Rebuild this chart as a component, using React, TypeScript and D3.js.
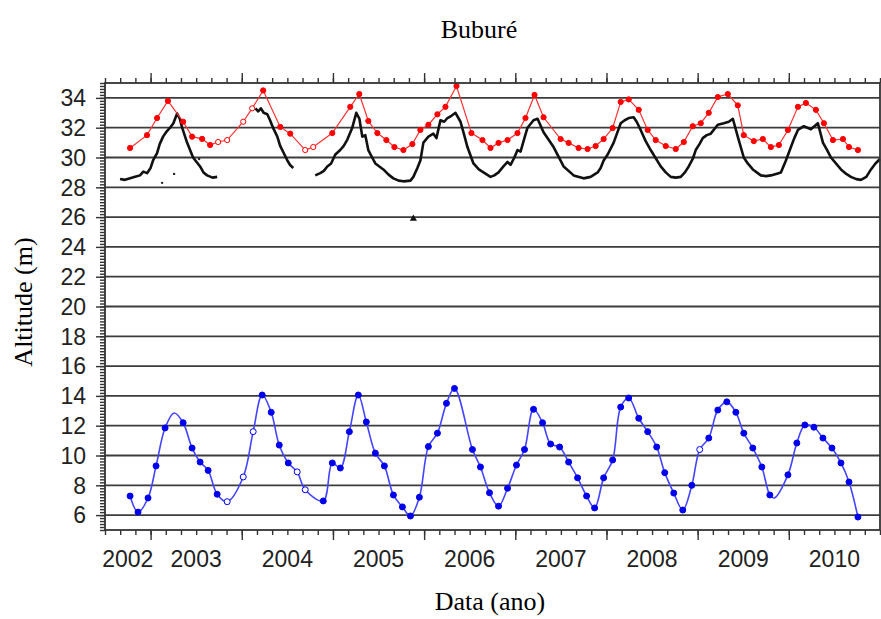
import React, { useEffect, useRef } from 'react';
import * as d3 from 'd3';

// Buburé station - water level (m) vs time (decimal year)
const yearLabels = [2002, 2003, 2004, 2005, 2006, 2007, 2008, 2009, 2010];
const yLabels = [6, 8, 10, 12, 14, 16, 18, 20, 22, 24, 26, 28, 30, 32, 34];

// red series (upper, with markers)
const redSeries: [number, number][] = [
	[2002.775, 30.64], [2002.961, 31.5], [2003.071, 32.65], [2003.19, 33.8], [2003.357, 32.4],
	[2003.455, 31.4], [2003.565, 31.25], [2003.653, 30.84], [2003.741, 31.04], [2003.84, 31.17],
	[2004.016, 32.4], [2004.114, 33.3], [2004.235, 34.5], [2004.422, 32.05], [2004.532, 31.6],
	[2004.696, 30.5], [2004.784, 30.7], [2004.993, 31.64], [2005.19, 33.4], [2005.289, 34.26],
	[2005.388, 32.45], [2005.487, 31.64], [2005.586, 31.17], [2005.674, 30.7], [2005.773, 30.5],
	[2005.871, 30.9], [2005.959, 31.85], [2006.047, 32.2], [2006.146, 32.9], [2006.234, 33.4],
	[2006.355, 34.8], [2006.519, 31.64], [2006.64, 31.17], [2006.728, 30.64], [2006.816, 30.98],
	[2006.915, 31.17], [2007.024, 31.64], [2007.112, 32.65], [2007.211, 34.2], [2007.31, 32.7],
	[2007.497, 31.24], [2007.585, 30.98], [2007.694, 30.64], [2007.793, 30.57], [2007.881, 30.77],
	[2007.969, 31.24], [2008.068, 31.98], [2008.156, 33.73], [2008.244, 33.9], [2008.354, 33.2],
	[2008.452, 31.85], [2008.54, 31.17], [2008.65, 30.77], [2008.76, 30.57], [2008.848, 31.04],
	[2008.946, 32.1], [2009.034, 32.3], [2009.122, 33.0], [2009.221, 34.06], [2009.331, 34.26],
	[2009.44, 33.5], [2009.506, 31.5], [2009.616, 31.1], [2009.715, 31.24], [2009.803, 30.7],
	[2009.891, 30.84], [2009.99, 31.85], [2010.1, 33.4], [2010.187, 33.66], [2010.297, 33.2],
	[2010.385, 32.3], [2010.484, 31.17], [2010.594, 31.24], [2010.66, 30.7], [2010.758, 30.5],
];
const redOpenYears = [2003.741, 2003.84, 2004.016, 2004.114, 2004.696, 2004.784];

// black series (daily gauge), three pieces with gaps
const blackSeg1: [number, number][] = [
	[2002.665, 28.56], [2002.72, 28.5], [2002.775, 28.6], [2002.83, 28.7], [2002.884, 28.8],
	[2002.92, 29.05], [2002.961, 28.95], [2003.0, 29.3], [2003.027, 29.8], [2003.071, 30.3],
	[2003.1, 30.9], [2003.137, 31.4], [2003.17, 31.7], [2003.214, 32.0], [2003.25, 32.3],
	[2003.291, 32.95], [2003.32, 32.6], [2003.346, 32.0], [2003.40, 31.0], [2003.466, 30.0],
	[2003.543, 29.4], [2003.58, 29.0], [2003.62, 28.8], [2003.68, 28.65], [2003.73, 28.7],
];
const blackSeg2: [number, number][] = [
	[2004.15, 33.3], [2004.18, 33.1], [2004.21, 33.3], [2004.24, 33.0], [2004.28, 32.9],
	[2004.31, 32.5], [2004.35, 31.9], [2004.39, 31.4], [2004.42, 30.8], [2004.46, 30.3],
	[2004.50, 29.8], [2004.53, 29.5], [2004.565, 29.3],
];
const blackSeg3: [number, number][] = [
	[2004.806, 28.8], [2004.861, 28.95], [2004.9, 29.1], [2004.938, 29.4], [2004.98, 29.6],
	[2005.026, 30.2], [2005.08, 30.5], [2005.12, 30.8], [2005.158, 31.2], [2005.212, 32.0],
	[2005.256, 33.0], [2005.29, 32.6], [2005.322, 31.4], [2005.355, 31.5], [2005.388, 30.5],
	[2005.43, 30.0], [2005.465, 29.6], [2005.553, 29.2], [2005.61, 28.85], [2005.663, 28.6],
	[2005.72, 28.45], [2005.773, 28.4], [2005.85, 28.45], [2005.882, 28.7], [2005.926, 29.3],
	[2005.959, 29.8], [2005.992, 31.0], [2006.047, 31.4], [2006.102, 31.6], [2006.135, 31.3],
	[2006.179, 32.5], [2006.22, 32.4], [2006.256, 32.65], [2006.3, 32.8], [2006.344, 33.0],
	[2006.399, 32.4], [2006.44, 31.5], [2006.475, 30.7], [2006.541, 29.6], [2006.6, 29.2],
	[2006.651, 29.0], [2006.728, 28.7], [2006.77, 28.8], [2006.816, 29.0], [2006.87, 29.4],
	[2006.915, 29.7], [2006.948, 29.5], [2006.99, 30.0], [2007.024, 30.5], [2007.058, 30.4],
	[2007.1, 31.3], [2007.134, 32.0], [2007.2, 32.5], [2007.244, 32.6], [2007.31, 31.7],
	[2007.42, 30.7], [2007.53, 29.4], [2007.64, 28.8], [2007.749, 28.6], [2007.826, 28.7],
	[2007.903, 29.0], [2007.936, 29.3], [2007.969, 29.8], [2008.013, 30.2], [2008.079, 31.0],
	[2008.156, 32.3], [2008.2, 32.5], [2008.244, 32.65], [2008.298, 32.7], [2008.331, 32.4],
	[2008.375, 31.85], [2008.43, 31.1], [2008.485, 30.5], [2008.595, 29.4], [2008.65, 29.0],
	[2008.705, 28.7], [2008.76, 28.65], [2008.815, 28.7], [2008.86, 29.0], [2008.902, 29.4],
	[2008.946, 29.9], [2008.979, 30.5], [2009.02, 30.9], [2009.056, 31.3], [2009.1, 31.5],
	[2009.144, 31.6], [2009.221, 32.2], [2009.287, 32.3], [2009.342, 32.4], [2009.386, 32.6],
	[2009.44, 31.4], [2009.506, 30.0], [2009.55, 29.6], [2009.605, 29.2], [2009.693, 28.8],
	[2009.75, 28.75], [2009.803, 28.8], [2009.86, 28.9], [2009.913, 29.0], [2009.968, 29.8],
	[2010.023, 30.7], [2010.06, 31.3], [2010.1, 31.85], [2010.165, 32.1], [2010.242, 31.9],
	[2010.319, 32.3], [2010.374, 31.0], [2010.42, 30.5], [2010.462, 30.0], [2010.572, 29.2],
	[2010.63, 28.9], [2010.681, 28.7], [2010.74, 28.55], [2010.791, 28.5], [2010.85, 28.7],
	[2010.901, 29.2], [2010.95, 29.6], [2011.0, 29.9],
];
const blackStray: [number, number][] = [[2003.126, 28.3], [2003.258, 28.9], [2003.532, 29.9]];
const blackStar: [number, number][] = [[2005.882, 25.9]];

// blue series (lower, smooth, with markers)
const blueSeries: [number, number][] = [
	[2002.775, 7.28], [2002.862, 6.2], [2002.972, 7.15], [2003.06, 9.3], [2003.159, 11.85],
	[2003.258, 12.85], [2003.357, 12.2], [2003.455, 10.5], [2003.543, 9.56], [2003.631, 9.0],
	[2003.73, 7.4], [2003.84, 6.9], [2004.016, 8.56], [2004.125, 11.6], [2004.224, 14.06],
	[2004.323, 12.9], [2004.411, 10.7], [2004.51, 9.5], [2004.608, 8.9], [2004.696, 7.7],
	[2004.894, 6.95], [2004.993, 9.5], [2005.081, 9.16], [2005.18, 11.6], [2005.278, 14.06],
	[2005.366, 12.25], [2005.465, 10.16], [2005.564, 9.3], [2005.663, 7.35], [2005.762, 6.55],
	[2005.85, 5.94], [2005.948, 7.2], [2006.047, 10.6], [2006.146, 11.5], [2006.245, 13.5],
	[2006.333, 14.5], [2006.53, 10.4], [2006.618, 9.23], [2006.717, 7.5], [2006.816, 6.6],
	[2006.915, 7.8], [2007.013, 9.36], [2007.101, 10.4], [2007.2, 13.1], [2007.299, 12.2],
	[2007.387, 10.77], [2007.486, 10.57], [2007.585, 9.56], [2007.683, 8.5], [2007.782, 7.28],
	[2007.87, 6.48], [2007.969, 8.5], [2008.068, 9.7], [2008.156, 13.25], [2008.244, 13.86],
	[2008.354, 12.5], [2008.452, 11.6], [2008.551, 10.57], [2008.639, 8.85], [2008.738, 7.48],
	[2008.837, 6.34], [2008.936, 8.0], [2009.023, 10.4], [2009.122, 11.17], [2009.221, 13.05],
	[2009.32, 13.6], [2009.419, 12.9], [2009.506, 11.5], [2009.605, 10.5], [2009.704, 9.23],
	[2009.792, 7.35], [2009.84, 7.15], [2009.99, 8.7], [2010.088, 10.84], [2010.176, 12.05],
	[2010.275, 11.9], [2010.374, 11.17], [2010.473, 10.5], [2010.572, 9.5], [2010.66, 8.22],
	[2010.758, 5.87],
];
const blueOpenYears = [2003.84, 2004.016, 2004.125, 2004.608, 2004.696, 2009.023];
const blueHiddenYears = [2003.258, 2009.84];

const App = () => {
	const svgRef = useRef<SVGSVGElement>(null);

	useEffect(() => {
		const svg = d3.select(svgRef.current);
		svg.selectAll('*').remove();

		const left = 105, right = 880, top = 83, bottom = 530;
		const x = d3.scaleLinear().domain([2002.5, 2011]).range([left, right]);
		const y = d3.scaleLinear().domain([5, 35]).range([bottom, top]);

		// gridlines
		svg.append('g')
			.selectAll('line')
			.data(yLabels)
			.join('line')
			.attr('x1', left).attr('x2', right)
			.attr('y1', d => y(d)).attr('y2', d => y(d))
			.attr('stroke', '#3c3c3c')
			.attr('stroke-width', 1.8);

		const plot = svg.append('g');

		// black gauge line
		const line = d3.line<[number, number]>().x(d => x(d[0])).y(d => y(d[1]));
		plot.selectAll('.black')
			.data([blackSeg1, blackSeg2, blackSeg3])
			.join('path')
			.attr('d', d => line(d))
			.attr('fill', 'none')
			.attr('stroke', '#111')
			.attr('stroke-width', 2.6)
			.attr('stroke-linejoin', 'round');
		plot.selectAll('.stray')
			.data(blackStray)
			.join('circle')
			.attr('cx', d => x(d[0])).attr('cy', d => y(d[1]))
			.attr('r', 1.2).attr('fill', '#222');
		plot.selectAll('.star')
			.data(blackStar)
			.join('path')
			.attr('transform', d => `translate(${x(d[0])},${y(d[1])})`)
			.attr('d', d3.symbol(d3.symbolTriangle, 22)())
			.attr('fill', '#111');

		// red series
		plot.append('path')
			.attr('d', line(redSeries))
			.attr('fill', 'none')
			.attr('stroke', '#ff3030')
			.attr('stroke-width', 1.2);
		plot.selectAll('.red')
			.data(redSeries)
			.join('circle')
			.attr('cx', d => x(d[0])).attr('cy', d => y(d[1]))
			.attr('r', 2.6)
			.attr('fill', d => redOpenYears.includes(d[0]) ? '#fff' : '#f00')
			.attr('stroke', '#f00')
			.attr('stroke-width', 1);

		// blue series
		const smooth = d3.line<[number, number]>()
			.x(d => x(d[0])).y(d => y(d[1]))
			.curve(d3.curveCatmullRom.alpha(0.5));
		plot.append('path')
			.attr('d', smooth(blueSeries))
			.attr('fill', 'none')
			.attr('stroke', '#4444ff')
			.attr('stroke-width', 1.6);
		plot.selectAll('.blue')
			.data(blueSeries.filter(d => !blueHiddenYears.includes(d[0])))
			.join('circle')
			.attr('cx', d => x(d[0])).attr('cy', d => y(d[1]))
			.attr('r', 3)
			.attr('fill', d => blueOpenYears.includes(d[0]) ? '#fff' : '#0000ee')
			.attr('stroke', '#0000ee')
			.attr('stroke-width', 1);

		// axes
		const xMinor = d3.range(2002.5, 2011.001, 1 / 6);
		const xMajor = d3.range(2003, 2011, 1);
		const yMinor = d3.range(5, 35.001, 0.2);
		const axisColor = '#333';

		const styleAxis = (g: any) => {
			g.select('.domain').remove();
			g.selectAll('line').attr('stroke', axisColor).attr('stroke-width', 1.4);
			g.selectAll('text').remove();
		};

		svg.append('g').attr('transform', `translate(0,${bottom})`)
			.call(d3.axisBottom(x).tickValues(xMinor).tickSize(5)).call(styleAxis);
		svg.append('g').attr('transform', `translate(0,${bottom})`)
			.call(d3.axisBottom(x).tickValues(xMajor).tickSize(10)).call(styleAxis);
		svg.append('g').attr('transform', `translate(0,${top})`)
			.call(d3.axisTop(x).tickValues(xMinor).tickSize(5)).call(styleAxis);
		svg.append('g').attr('transform', `translate(0,${top})`)
			.call(d3.axisTop(x).tickValues(xMajor).tickSize(10)).call(styleAxis);
		svg.append('g').attr('transform', `translate(${left},0)`)
			.call(d3.axisLeft(y).tickValues(yMinor).tickSize(5)).call(styleAxis);
		svg.append('g').attr('transform', `translate(${left},0)`)
			.call(d3.axisLeft(y).tickValues(yLabels).tickSize(9)).call(styleAxis);

		// frame
		svg.append('rect')
			.attr('x', left).attr('y', top)
			.attr('width', right - left).attr('height', bottom - top)
			.attr('fill', 'none')
			.attr('stroke', axisColor)
			.attr('stroke-width', 1.8);

		// tick labels
		svg.append('g')
			.selectAll('text')
			.data(yLabels)
			.join('text')
			.attr('x', 86)
			.attr('y', d => y(d))
			.attr('dy', '0.36em')
			.attr('text-anchor', 'end')
			.attr('font-family', 'Liberation Sans, Arial, sans-serif')
			.attr('font-size', 23)
			.attr('fill', '#222')
			.text(d => d);

		svg.append('g')
			.selectAll('text')
			.data(yearLabels)
			.join('text')
			.attr('x', d => x((Math.max(d, 2002.5) + Math.min(d + 1, 2011)) / 2))
			.attr('y', 567)
			.attr('text-anchor', 'middle')
			.attr('font-family', 'Liberation Sans, Arial, sans-serif')
			.attr('font-size', 23)
			.attr('fill', '#222')
			.text(d => d);

		// titles
		const serif = 'Liberation Serif, Times New Roman, serif';
		svg.append('text')
			.attr('x', 479).attr('y', 38)
			.attr('text-anchor', 'middle')
			.attr('font-family', serif).attr('font-size', 26)
			.text('Buburé');
		svg.append('text')
			.attr('x', 490).attr('y', 610)
			.attr('text-anchor', 'middle')
			.attr('font-family', serif).attr('font-size', 26)
			.text('Data (ano)');
		svg.append('text')
			.attr('transform', 'translate(32,302) rotate(-90)')
			.attr('text-anchor', 'middle')
			.attr('font-family', serif).attr('font-size', 26)
			.text('Altitude (m)');
	}, []);

	return (
		<svg
			ref={svgRef}
			width={881}
			height={619}
			style={{ position: 'absolute', left: 0, top: 0, background: '#fff' }}
		/>
	);
};

export default App;
